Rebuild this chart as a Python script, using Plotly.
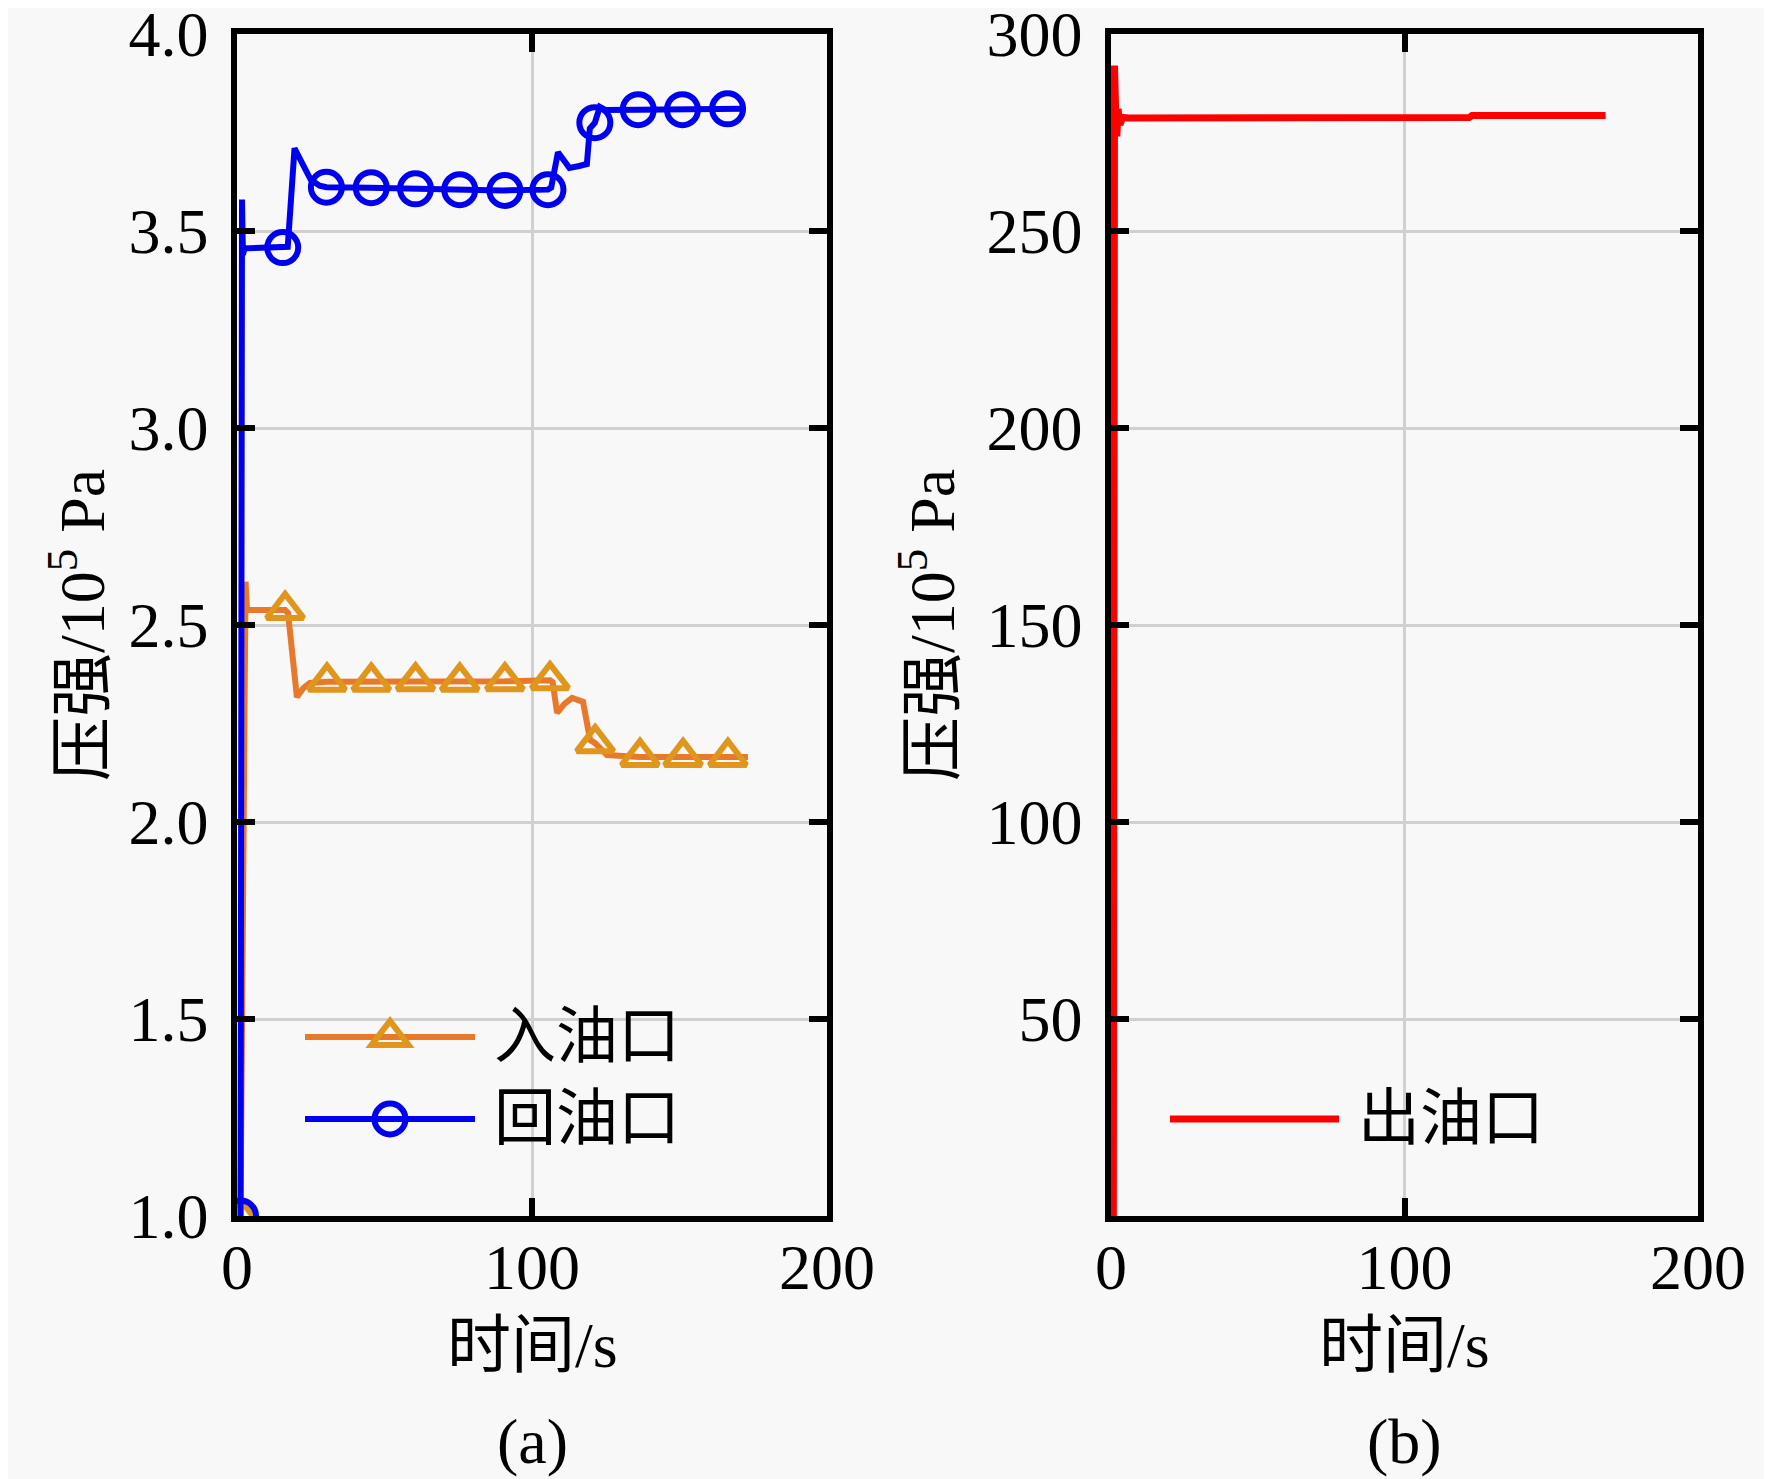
import plotly.graph_objects as go

# ---------------- data ----------------
# panel (a): 入油口 (inlet), line samples
t_in = [1.2, 2.9, 3.4, 16.3, 17.3, 20.3, 22.5, 24.7, 30.5, 45.5, 60.5, 75.5, 90.8, 106.1,
        107.0, 108.5, 111.0, 113.6, 117.3, 119.7, 121.4, 125.4, 136.6, 151.2, 166.4, 173.2]
p_in = [1.0, 2.61, 2.538, 2.538, 2.53, 2.317, 2.34, 2.353, 2.356, 2.356, 2.357, 2.356, 2.357, 2.36,
        2.355, 2.277, 2.30, 2.315, 2.305, 2.208, 2.20, 2.17, 2.165, 2.165, 2.165, 2.165]
# 入油口 markers
t_in_mk = [1.2, 16.3, 30.5, 45.5, 60.5, 75.5, 90.8, 106.1, 121.4, 136.6, 151.2, 166.4]
p_in_mk = [1.0, 2.538, 2.356, 2.356, 2.357, 2.356, 2.357, 2.36, 2.20, 2.165, 2.165, 2.165]

# panel (a): 回油口 (return), line samples
t_back = [1.2, 1.7, 2.0, 2.6, 15.5, 17.2, 19.5, 22.0, 25.0, 28.0, 30.3, 45.0, 60.0, 75.0, 90.0,
          105.4, 106.5, 108.8, 112.7, 116.0, 118.6, 119.6, 121.3, 123.0, 125.0, 136.0, 151.0, 166.3, 171.5]
p_back = [1.0, 3.58, 3.44, 3.456, 3.458, 3.46, 3.71, 3.67, 3.63, 3.615, 3.611, 3.61, 3.607, 3.605, 3.603,
          3.605, 3.61, 3.70, 3.66, 3.665, 3.67, 3.76, 3.775, 3.815, 3.807, 3.808, 3.808, 3.81, 3.81]
# 回油口 markers
t_back_mk = [1.2, 15.5, 30.3, 45.5, 60.5, 75.5, 90.8, 105.4, 121.3, 136.0, 151.0, 166.3]
p_back_mk = [1.0, 3.458, 3.611, 3.61, 3.607, 3.605, 3.603, 3.605, 3.775, 3.808, 3.808, 3.81]

# panel (b): 出油口 (outlet)
t_out = [0.8, 1.2, 1.6, 2.0, 2.4, 3.0, 4.0, 6.0, 122.0, 123.0, 168.5]
p_out = [0, 292, 280, 274, 281, 277, 278.8, 278.7, 278.8, 279.3, 279.3]

# axis ticks
x_ticks = [0, 100, 200]
ya_ticks = [1.0, 1.5, 2.0, 2.5, 3.0, 3.5, 4.0]
yb_ticks = [50, 100, 150, 200, 250, 300]

# ---------------- style ----------------
OFF = 8                     # page body margin offset
W, H = 1772 - OFF, 1479 - OFF
AX_L, AX_R = 237 - OFF, 827 - OFF      # panel (a) pixel extents
BX_L, BX_R = 1111 - OFF, 1698 - OFF    # panel (b)
P_T, P_B = 34 - OFF, 1216 - OFF
FONT = "Liberation Serif, 'Times New Roman', 'Noto Sans CJK SC', serif"
C_IN_LINE = "#E8792A"
C_IN_MK = "#E0961C"
C_BACK = "#0000F0"
C_OUT = "#FF0000"
BG = "#f8f8f8"

fig = go.Figure()

fig.add_trace(go.Scatter(x=t_in, y=p_in, mode="lines", line=dict(color=C_IN_LINE, width=6),
                         xaxis="x", yaxis="y", showlegend=False))
fig.add_trace(go.Scatter(x=t_in_mk, y=p_in_mk, mode="markers",
                         marker=dict(symbol="triangle-up-open", size=32, color=C_IN_MK,
                                     line=dict(width=6, color=C_IN_MK)),
                         xaxis="x", yaxis="y", showlegend=False))
fig.add_trace(go.Scatter(x=t_back, y=p_back, mode="lines", line=dict(color=C_BACK, width=6),
                         xaxis="x", yaxis="y", showlegend=False))
fig.add_trace(go.Scatter(x=t_back_mk, y=p_back_mk, mode="markers",
                         marker=dict(symbol="circle-open", size=31, color=C_BACK,
                                     line=dict(width=6, color=C_BACK)),
                         xaxis="x", yaxis="y", showlegend=False))
fig.add_trace(go.Scatter(x=t_out, y=p_out, mode="lines", line=dict(color=C_OUT, width=7),
                         xaxis="x2", yaxis="y2", showlegend=False))

axis_common = dict(
    showline=True, linecolor="black", linewidth=5.5, mirror="ticks",
    ticks="inside", ticklen=18, tickwidth=5.5, tickcolor="black",
    showgrid=True, gridcolor="#d0d0d0", gridwidth=3, zeroline=False,
    tickfont=dict(family=FONT, size=64, color="black"),
    ticklabeloverflow="allow", automargin=False,
)

fig.update_layout(
    width=W, height=H, margin=dict(l=0, r=0, t=0, b=0, autoexpand=False),
    paper_bgcolor=BG, plot_bgcolor=BG,
    xaxis=dict(domain=[AX_L / W, AX_R / W], range=[0, 200], tickvals=x_ticks,
               anchor="y", ticklabelstandoff=-10, **axis_common),
    yaxis=dict(domain=[1 - P_B / H, 1 - P_T / H], range=[1.0, 4.0], tickvals=ya_ticks,
               tickformat=".1f", anchor="x", ticklabelstandoff=10, **axis_common),
    xaxis2=dict(domain=[BX_L / W, BX_R / W], range=[0, 200], tickvals=x_ticks,
                anchor="y2", ticklabelstandoff=-10, **axis_common),
    yaxis2=dict(domain=[1 - P_B / H, 1 - P_T / H], range=[0, 300], tickvals=yb_ticks,
                anchor="x2", ticklabelstandoff=10, **axis_common),
)

# ---------------- text ----------------
def ann(text, x, y, size=64, angle=0, xanchor="center"):
    fig.add_annotation(text=text, x=x, y=y, xref="paper", yref="paper", showarrow=False,
                       textangle=angle, xanchor=xanchor, yanchor="middle",
                       font=dict(family=FONT, size=size, color="black"))

mid_y = 1 - ((P_T + P_B) / 2) / H
ann("时间/s", ((AX_L + AX_R) / 2) / W, 1 - (1345 - OFF) / H)
ann("时间/s", ((BX_L + BX_R) / 2) / W, 1 - (1345 - OFF) / H)
ann("(a)", ((AX_L + AX_R) / 2) / W, 1 - (1441 - OFF) / H)
ann("(b)", ((BX_L + BX_R) / 2) / W, 1 - (1441 - OFF) / H)
ann("压强/10<sup>5</sup> Pa", (77 - OFF) / W, mid_y, angle=-90)
ann("压强/10<sup>5</sup> Pa", (927 - OFF) / W, mid_y, angle=-90)

# ---------------- legends (drawn as layout decorations) ----------------
PW_A, PW_B, PH = AX_R - AX_L, BX_R - BX_L, P_B - P_T

def leg_line(xref, yref, x0, x1, y, color, width=6):
    fig.add_shape(type="line", xref=xref, yref=yref, x0=x0, x1=x1, y0=y, y1=y,
                  line=dict(color=color, width=width))

def leg_text(xref, yref, x, y, text):
    fig.add_annotation(text=text, x=x, y=y, xref=xref, yref=yref, showarrow=False,
                       xanchor="left", yanchor="middle",
                       font=dict(family=FONT, size=62, color="black"))

# panel (a) legend (positions relative to the plot frame, in px)
ya1 = (1216 - 1037) / PH
ya2 = (1216 - 1119) / PH
lx0, lx1 = (305 - 237) / PW_A, (475 - 237) / PW_A
cx = (lx0 + lx1) / 2
tx = (492 - 237) / PW_A
leg_line("x domain", "y domain", lx0, lx1, ya1, C_IN_LINE)
hw, up, dn = 18.5 / PW_A, 16 / PH, 8 / PH
fig.add_shape(type="path", xref="x domain", yref="y domain",
              path=f"M{cx-hw},{ya1-dn} L{cx+hw},{ya1-dn} L{cx},{ya1+up} Z",
              line=dict(color=C_IN_MK, width=6), fillcolor="rgba(0,0,0,0)")
leg_text("x domain", "y domain", tx, ya1, "入油口")
leg_line("x domain", "y domain", lx0, lx1, ya2, C_BACK)
rx, ry = 15.5 / PW_A, 15.5 / PH
fig.add_shape(type="circle", xref="x domain", yref="y domain",
              x0=cx - rx, x1=cx + rx, y0=ya2 - ry, y1=ya2 + ry,
              line=dict(color=C_BACK, width=6), fillcolor="rgba(0,0,0,0)")
leg_text("x domain", "y domain", tx, ya2, "回油口")

# panel (b) legend
bx0, bx1 = (1170 - 1111) / PW_B, (1339 - 1111) / PW_B
btx = (1356 - 1111) / PW_B
leg_line("x2 domain", "y2 domain", bx0, bx1, ya2, C_OUT, width=7)
leg_text("x2 domain", "y2 domain", btx, ya2, "出油口")

fig.write_html("out.html")
